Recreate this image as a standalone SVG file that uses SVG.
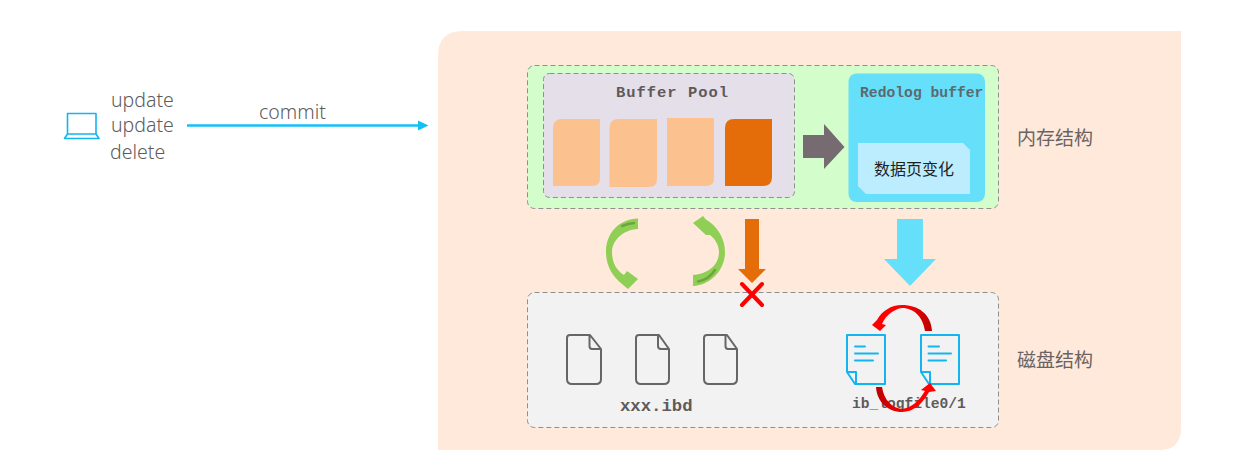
<svg xmlns="http://www.w3.org/2000/svg" width="1246" height="469" viewBox="0 0 1246 469">
  <style>
    .ui { font-family: "Noto Sans", "Noto Sans CJK SC", sans-serif; font-weight: 300; fill: #5c5c5c; font-size: 19.500px; }
    .cn { font-family: "Noto Sans CJK SC", "Noto Sans", sans-serif; fill: #6b6363; font-size: 19px; }
    .mono { font-family: "Liberation Mono", monospace; font-weight: bold; fill: #5f5a5a; }
    .dash { stroke: #8f8f8f; stroke-width: 1; stroke-dasharray: 5 3; }
    .page { fill: #fbc28f; }
    .doc { fill: none; stroke: #666; stroke-width: 2; stroke-linejoin: round; }
    .log { fill: none; stroke: #12b5ef; stroke-width: 2; stroke-linejoin: round; }
    .logline { stroke: #12b5ef; stroke-width: 2; stroke-linecap: round; fill: none; }
    .cycle { fill: #8fcf55; }
    .cycle-shade { fill: none; stroke: #6fa53f; stroke-width: 2.500; stroke-linecap: round; }
  </style>
  <defs>
    <linearGradient id="redA" x1="0" y1="0" x2="1" y2="0">
      <stop offset="0" stop-color="#ff0000"/><stop offset="0.55" stop-color="#ff0000"/><stop offset="1" stop-color="#b80000"/>
    </linearGradient>
    <linearGradient id="redB" x1="0" y1="0" x2="1" y2="0">
      <stop offset="0" stop-color="#b80000"/><stop offset="0.5" stop-color="#ff0000"/><stop offset="1" stop-color="#ff0000"/>
    </linearGradient>
  </defs>

  <path id="backdrop" d="M438 56 Q438 31 463 31 H1181 V428 Q1181 450 1159 450 H438 Z" fill="#fee9db"/>

  <g id="client">
    <path d="M67.500 113.500 H96 V134 H67.500 Z M67.500 134 L64.500 138.500 H99 L96 134" fill="none" stroke="#12b5ef" stroke-width="1.600" stroke-linejoin="round"/>
    <text class="ui" x="111" y="107">update</text>
    <text class="ui" x="111" y="132">update</text>
    <text class="ui" x="110" y="159">delete</text>
  </g>

  <g id="memory">
    <rect x="527.500" y="65.500" width="471" height="143" rx="7" fill="#d3fdca" class="dash"/>
    <text class="cn" x="1017" y="145">内存结构</text>
  </g>

  <g id="buffer-pool">
    <rect x="543.500" y="73.500" width="251" height="124" rx="6" fill="#e5dfea" class="dash"/>
    <text class="mono" x="616" y="97" style="font-size:15.500px" letter-spacing="0.970">Buffer Pool</text>
    <path class="page" d="M562 119 H600 V178 Q600 186 592 186 H553 V128 Q553 119 562 119 Z"/>
    <path class="page" d="M619 119 H657 V179 Q657 187 649 187 H609.500 V128 Q609.500 119 619 119 Z"/>
    <path class="page" d="M667 118 H714 V178 Q714 186 706 186 H667 Z"/>
    <path d="M734 119 H772 V177 Q772 186 763 186 H725 V128 Q725 119 734 119 Z" fill="#e46d0a"/>
  </g>

  <g id="redolog-buffer">
    <rect x="848.500" y="73.500" width="136.500" height="128.500" rx="8" fill="#66e0fa"/>
    <text class="mono" x="860" y="96.500" style="font-size:14.700px;fill:#5c6a70">Redolog buffer</text>
    <path d="M858 143 H963 L970 150 V194 H866 L858 186 Z" fill="#bcedff"/>
    <text x="914" y="175" text-anchor="middle" font-family="'Noto Sans CJK SC', sans-serif" font-size="16" fill="#1f1f1f">数据页变化</text>
  </g>

  <g id="disk">
    <rect x="527.500" y="292.500" width="471" height="135" rx="7" fill="#f2f2f2" class="dash"/>
    <text class="cn" x="1017" y="367">磁盘结构</text>
  </g>

  <g id="ibd-files">
    <path class="doc" d="M570 335 H590 L601 349 V379 Q601 384 596 384 H572 Q567 384 567 379 V338 Q567 335 570 335 Z M589.500 335 V346 Q589.500 349 592 349 H601"/>
    <path class="doc" d="M639 335 H659 L669 349 V379 Q669 384 664 384 H641 Q636 384 636 379 V338 Q636 335 639 335 Z M658 335 V346 Q658 349 661 349 H669"/>
    <path class="doc" d="M707 335 H727 L737 349 V379 Q737 384 732 384 H709 Q704 384 704 379 V338 Q704 335 707 335 Z M725.500 335 V346 Q725.500 349 728 349 H737"/>
    <text class="mono" x="620" y="411" style="font-size:17.300px">xxx.ibd</text>
  </g>

  <g id="redo-files">
    <path class="log" d="M847 335 H885 V384 H855 L847 372 Z M847 372 H856 V384"/>
    <line class="logline" x1="855" y1="346.500" x2="865" y2="346.500"/>
    <line class="logline" x1="855" y1="353.500" x2="878" y2="353.500"/>
    <line class="logline" x1="855" y1="360.500" x2="873" y2="360.500"/>
    <path class="log" d="M921 335 H959 V384 H929 L921 372 Z M921 372 H930 V384"/>
    <line class="logline" x1="928.500" y1="346.500" x2="939" y2="346.500"/>
    <line class="logline" x1="928.500" y1="353.500" x2="951" y2="353.500"/>
    <line class="logline" x1="928.500" y1="360.500" x2="946" y2="360.500"/>
    <text class="mono" x="852" y="408" style="font-size:14.600px">ib_logfile0/1</text>
  </g>

  <g id="connectors">
    <line x1="187" y1="125.500" x2="420" y2="125.500" stroke="#12c0f7" stroke-width="2.500"/>
    <path d="M418 120.500 L428.500 125.500 L418 130.500 Z" fill="#12c0f7"/>
    <text class="ui" x="259" y="119">commit</text>

    <path d="M803 135 H824 V124 L844.500 147 L824 169 V158 H803 Z" fill="#766b71"/>

    <path class="cycle" d="M638 218.500 C620 219 606 232 606 252 C606 266 613 277 622 284 L628 289 L638 279 L627 271 L624 275 C616 270 612 262 612 252 C612 241 622 230 638 229 Z"/>
    <path class="cycle-shade" d="M622 226 Q628 223.500 634 223"/>
    <path class="cycle" d="M693 275 C708 274 719 265 719 252 C719 245 715 239 710 235 L706 235 L693 223 L703 216 L706 219.500 C717 226 725 238 725 252 C725 270 711 285 693 286 Z"/>
    <path class="cycle-shade" d="M698 281.500 Q709 279.500 715 270"/>

    <path d="M745 219 H759 V269 H766 L752 283 L738 269 H745 Z" fill="#e46d0a"/>
    <path d="M742 284 L762 305 M762 284 L742 305" stroke="#ff0000" stroke-width="4" fill="none" stroke-linecap="round"/>

    <path d="M897 219 H923 V259 H936 L910 286 L884 259 H897 Z" fill="#66e0fa"/>

    <path d="M932 331 C931 314 918 305 902 305 C891 305 882 311 877 320 L872 325 L880 331 L886 325 L882 324 C886 315 894 309 902 308 C914 308 923 317 925 331 Z" fill="url(#redA)"/>
    <path d="M876 387 C877 402 888 412 902 412 C914 412 923 403 929 392 L936 391 L930 383 L921 390 L925 391 C919 401 911 408 902 409 C892 408 884 400 882 387 Z" fill="url(#redB)"/>
  </g>
</svg>
